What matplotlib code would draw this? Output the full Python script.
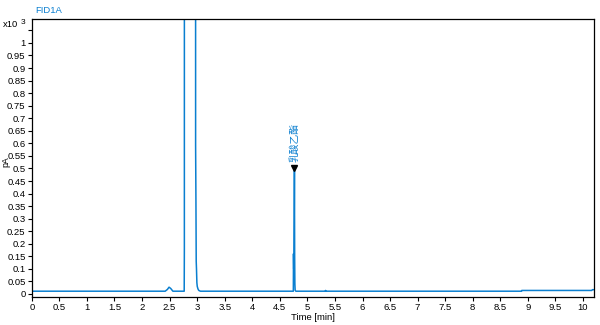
import numpy as np
import matplotlib.pyplot as plt

# chromatogram trace (x10^3 pA)
time_min = [0.0, 2.42, 2.46, 2.49, 2.52, 2.56, 2.60, 2.765, 2.768, 2.772, 2.968, 2.972,
            2.978, 2.983, 2.988, 2.995, 3.002, 3.015, 3.03, 3.06, 4.745, 4.748, 4.752,
            4.757, 4.761, 4.765, 4.769, 4.773, 4.778, 4.79, 5.325, 5.33, 5.335, 8.885,
            8.89, 10.16, 10.17, 10.2]
signal = [0.011, 0.011, 0.018, 0.027, 0.022, 0.011, 0.011, 0.011, 0.18, 12.0, 12.0, 0.59,
          0.37, 0.13, 0.10, 0.045, 0.03, 0.02, 0.014, 0.011, 0.011, 0.16, 0.10,
          0.165, 0.30, 0.494, 0.15, 0.04, 0.015, 0.011, 0.011, 0.014, 0.011, 0.011,
          0.014, 0.014, 0.017, 0.017]

peak_time = 4.765
peak_height = 0.494
peak_name = '乳酸乙酯'

x_ticks = np.arange(0, 10.01, 0.5)
y_ticks = np.arange(0, 1.001, 0.05)

blue = '#0a7fd0'
plt.rcParams['font.family'] = ['Liberation Sans', 'DejaVu Sans']

fig = plt.figure(figsize=(6, 3.25), dpi=100)
ax = fig.add_axes([0.053, 0.087, 0.937, 0.855])

ax.plot(time_min, signal, color=blue, lw=1.1)
ax.plot([peak_time], [peak_height + 0.006], marker='v', color='black', ms=4.5, ls='none')
ax.text(peak_time, peak_height + 0.03, peak_name, rotation=90, ha='center', va='bottom',
        color=blue, fontsize=7, family=['Noto Sans CJK SC', 'DejaVu Sans'])

ax.set_xlim(0, 10.2)
ax.set_ylim(-0.011, 1.096)
ax.set_xticks(x_ticks)
ax.set_xticklabels([f'{v:g}' for v in x_ticks])
ax.set_yticks(list(y_ticks) + [1.05])
ax.set_yticklabels([f'{v:g}' for v in y_ticks] + [''])
ax.tick_params(labelsize=6.8, length=3, width=0.8, pad=1.5)
for s in ax.spines.values():
    s.set_linewidth(0.9)

ax.set_xlabel('Time [min]', fontsize=6.8, labelpad=1)
fig.text(0.003, 0.502, 'pA', fontsize=6.3, rotation=90, ha='left', va='center')
fig.text(0.005, 0.91, 'x10', fontsize=6.8, va='bottom')
fig.text(0.035, 0.92, '3', fontsize=6, va='bottom')
fig.text(0.058, 0.955, 'FID1A', fontsize=6.8, color=blue, va='bottom')

fig.savefig('out.png', dpi=100)
